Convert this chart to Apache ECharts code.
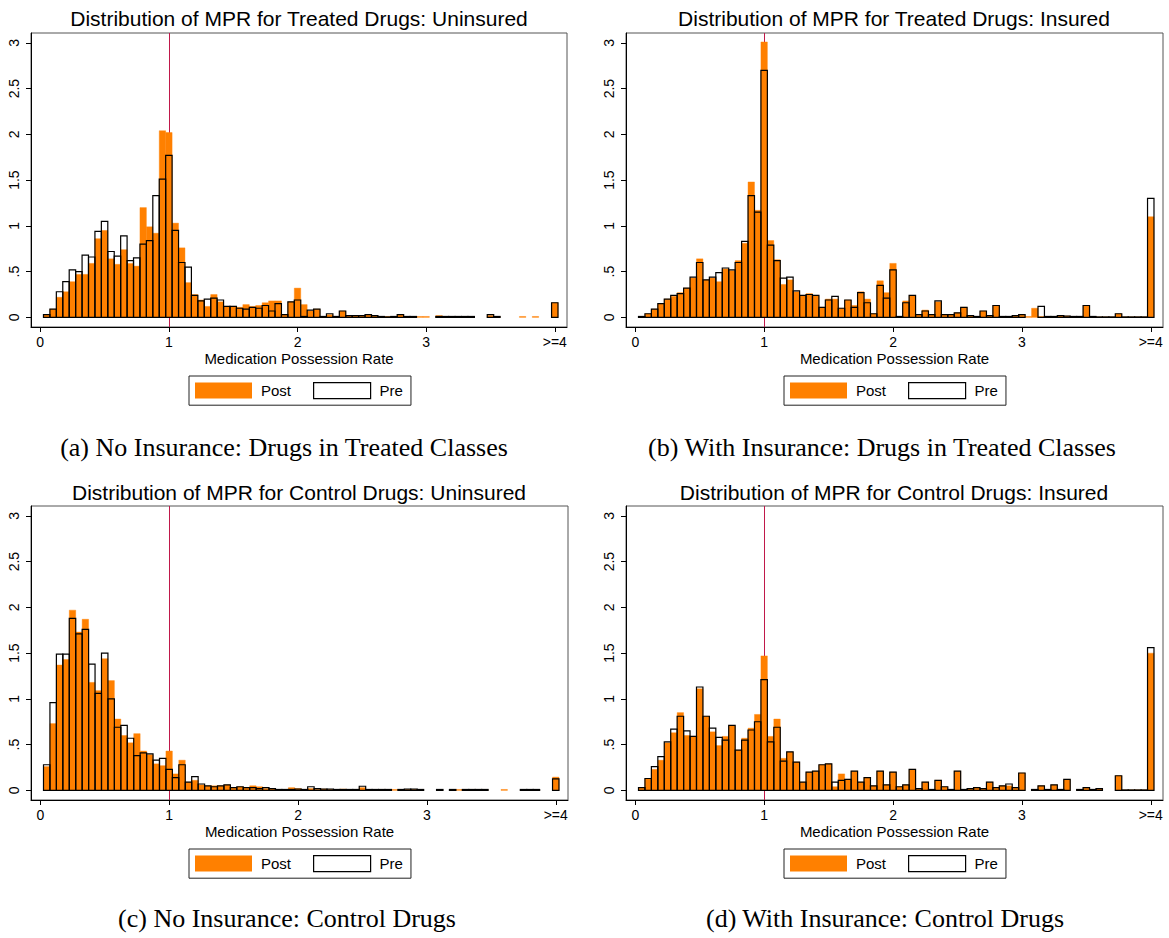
<!DOCTYPE html>
<html>
<head>
<meta charset="utf-8">
<script src="https://cdn.jsdelivr.net/npm/echarts@6/dist/echarts.min.js"></script>
<style>
html,body{margin:0;padding:0;background:#fff;}
#chart{width:1169px;height:938px;}
</style>
</head>
<body>
<div id="chart"></div>
<script>
// ---- data ----
var binCenters = [0.05,0.10,0.15,0.20,0.25,0.30,0.35,0.40,0.45,0.50,0.55,0.60,0.65,0.70,0.75,0.80,0.85,0.90,0.95,1.00,
  1.05,1.10,1.15,1.20,1.25,1.30,1.35,1.40,1.45,1.50,1.55,1.60,1.65,1.70,1.75,1.80,1.85,1.90,1.95,2.00,
  2.05,2.10,2.15,2.20,2.25,2.30,2.35,2.40,2.45,2.50,2.55,2.60,2.65,2.70,2.75,2.80,2.85,2.90,2.95,3.00,
  3.05,3.10,3.15,3.20,3.25,3.30,3.35,3.40,3.45,3.50,3.55,3.60,3.65,3.70,3.75,3.80,3.85,3.90,3.95,4.00];

var xTickValues = [0, 1, 2, 3, 4];
var xTickLabels = ['0', '1', '2', '3', '>=4'];
var yTickValues = [0, 0.5, 1, 1.5, 2, 2.5, 3];
var yTickLabels = ['0', '.5', '1', '1.5', '2', '2.5', '3'];

var panelTitles = [
  'Distribution of MPR for Treated Drugs: Uninsured',
  'Distribution of MPR for Treated Drugs: Insured',
  'Distribution of MPR for Control Drugs: Uninsured',
  'Distribution of MPR for Control Drugs: Insured'
];
var panelCaptions = [
  '(a) No Insurance: Drugs in Treated Classes',
  '(b) With Insurance: Drugs in Treated Classes',
  '(c) No Insurance: Control Drugs',
  '(d) With Insurance: Control Drugs'
];
var xAxisTitle = 'Medication Possession Rate';
var seriesNames = ['Post', 'Pre'];
var refLineX = 1;

var postA = [0.03,0.09,0.22,0.28,0.39,0.47,0.47,0.59,0.86,0.95,0.64,0.58,0.74,0.59,0.56,1.20,0.99,0.92,2.04,2.02,
  1.03,0.76,0.38,0.25,0.19,0.12,0.25,0.17,0.12,0.12,0.11,0.14,0.12,0.13,0.16,0.18,0.18,0.03,0.17,0.32,
  0.14,0.07,0.09,0.01,0.03,0.01,0.07,0.02,0.02,0.02,0.03,0.02,0.01,0.01,0.005,0.03,0.005,0.005,0.01,0.01,
  0,0.02,0.01,0.01,0.01,0.01,0.01,0,0,0.02,0.01,0,0,0,0.01,0,0.01,0,0,0.16];
var preA = [0.03,0.09,0.28,0.39,0.52,0.50,0.68,0.66,0.94,1.05,0.72,0.67,0.89,0.62,0.65,0.80,0.84,1.33,1.51,1.77,
  0.95,0.60,0.55,0.24,0.18,0.20,0.21,0.19,0.12,0.12,0.10,0.09,0.11,0.10,0.13,0.07,0.15,0.03,0.17,0.19,
  0.01,0.08,0.09,0.01,0.04,0.01,0.07,0.02,0.02,0.02,0.03,0.02,0.01,0.005,0.01,0.03,0.01,0.01,0,0,
  0,0.01,0.01,0.01,0.01,0.01,0.01,0,0,0.03,0.01,0,0,0,0,0,0,0,0,0.16];

var postB = [0.01,0.04,0.09,0.15,0.20,0.23,0.27,0.32,0.43,0.64,0.41,0.43,0.39,0.53,0.51,0.62,0.81,1.48,1.17,3.01,
  0.84,0.63,0.36,0.41,0.28,0.24,0.26,0.24,0.11,0.20,0.20,0.10,0.19,0.13,0.28,0.20,0.04,0.40,0.27,0.59,
  0.01,0.18,0.24,0.03,0.08,0.03,0.17,0.03,0.03,0.05,0.11,0.02,0.01,0.07,0.02,0.13,0.01,0.01,0.02,0.03,
  0.01,0.10,0.01,0.01,0.01,0.02,0.015,0.01,0.01,0.13,0.01,0.005,0.005,0.005,0.04,0.005,0.005,0.005,0.005,1.10];
var preB = [0.01,0.04,0.09,0.15,0.20,0.24,0.26,0.32,0.44,0.60,0.41,0.44,0.49,0.54,0.52,0.60,0.83,1.33,1.15,2.70,
  0.79,0.62,0.43,0.44,0.29,0.24,0.25,0.24,0.11,0.19,0.23,0.10,0.19,0.11,0.27,0.16,0.04,0.35,0.21,0.52,
  0.01,0.16,0.24,0.03,0.07,0.03,0.18,0.03,0.03,0.05,0.11,0.02,0.01,0.07,0.02,0.13,0.01,0.01,0.02,0.03,
  0,0,0.12,0.01,0.01,0.02,0.015,0.01,0.01,0.13,0.01,0.005,0.005,0.005,0.04,0.005,0.005,0.005,0.005,1.30];

var postC = [0.26,0.73,1.37,1.43,1.97,1.73,1.87,1.18,1.09,1.44,1.20,0.78,0.60,0.52,0.62,0.43,0.39,0.29,0.27,0.43,
  0.18,0.33,0.09,0.11,0.06,0.05,0.05,0.05,0.06,0.03,0.04,0.03,0.05,0.04,0.02,0.02,0.01,0.01,0.03,0.02,
  0.01,0.02,0.01,0.015,0.01,0.01,0.015,0.01,0.01,0.03,0.01,0.01,0.01,0.01,0.01,0.01,0.01,0.01,0.01,0,
  0,0.005,0,0.005,0.01,0.01,0.01,0.01,0.01,0,0,0.01,0,0,0.005,0.005,0.005,0,0,0.145];
var preC = [0.28,0.96,1.49,1.49,1.88,1.71,1.76,1.38,1.06,1.50,1.00,0.69,0.71,0.57,0.38,0.41,0.40,0.33,0.35,0.23,
  0.14,0.28,0.09,0.15,0.07,0.05,0.04,0.05,0.06,0.03,0.04,0.03,0.03,0.02,0.03,0.02,0.01,0.01,0.01,0.015,
  0.01,0.04,0.02,0.015,0.015,0.01,0.01,0.01,0.01,0.045,0.01,0.01,0.01,0.01,0,0.01,0.015,0.015,0.01,0,
  0,0.01,0,0.01,0,0.01,0.01,0.01,0.01,0,0,0,0,0,0.01,0.01,0.01,0,0,0.125];

var postD = [0.03,0.13,0.23,0.33,0.52,0.63,0.85,0.60,0.59,1.11,0.81,0.64,0.49,0.59,0.71,0.44,0.57,0.68,0.83,1.47,
  0.59,0.78,0.35,0.42,0.31,0.09,0.20,0.21,0.28,0.29,0.04,0.18,0.12,0.21,0.09,0.14,0.05,0.21,0.06,0.20,
  0.04,0.06,0.23,0.02,0.09,0.01,0.11,0.04,0.01,0.21,0.01,0.02,0.03,0.02,0.09,0.03,0.05,0.05,0.03,0.19,
  0,0.01,0.05,0.01,0.06,0.01,0.12,0,0.01,0.03,0.01,0.02,0,0,0.16,0.005,0.005,0.005,0.005,1.50];
var preD = [0.03,0.13,0.26,0.37,0.53,0.67,0.81,0.65,0.59,1.13,0.81,0.68,0.58,0.55,0.71,0.44,0.55,0.66,0.75,1.21,
  0.53,0.69,0.32,0.42,0.31,0.09,0.20,0.21,0.28,0.29,0.09,0.11,0.12,0.21,0.09,0.14,0.05,0.21,0.06,0.20,
  0.04,0.06,0.23,0.02,0.09,0.01,0.11,0.04,0.01,0.21,0.01,0.02,0.03,0.02,0.09,0.03,0.05,0.07,0.03,0.19,
  0,0.01,0.05,0.01,0.06,0.01,0.12,0,0.01,0.03,0.01,0.02,0,0,0.16,0.005,0.005,0.005,0.005,1.56];

var panelPost = [postA, postB, postC, postD];
var panelPre = [preA, preB, preC, preD];

// ---- styling / layout ----
var ORANGE = '#FF8000';
var REDLINE = '#C0184A';
var BIN_HALF = 0.025;
var SANS = '"Liberation Sans", Arial, Helvetica, sans-serif';
var SERIF = '"Liberation Serif", "Times New Roman", serif';
var grids = [
  {left: 31, top: 33, width: 536, height: 294},
  {left: 626, top: 33, width: 537, height: 294},
  {left: 31, top: 506, width: 537, height: 294},
  {left: 626, top: 506, width: 537, height: 294}
];
var legendPos = [[189, 376], [784, 376], [189, 849], [784, 849]];
var titlePos = [[299, 18], [894, 18], [299, 492], [894, 492]];
var captionPos = [[284, 447], [882, 447], [287, 918], [885, 918]];

function pairs(vals) {
  var out = [];
  for (var i = 0; i < binCenters.length; i++) out.push([binCenters[i], vals[i]]);
  return out;
}

function renderBar(filled) {
  return function (params, api) {
    var x = api.value(0), y = api.value(1);
    if (!(y > 0)) return null;
    var p0 = api.coord([x - BIN_HALF, y]);
    var p1 = api.coord([x + BIN_HALF, 0]);
    return {
      type: 'rect',
      shape: {x: p0[0], y: p0[1], width: p1[0] - p0[0], height: p1[1] - p0[1]},
      style: filled ? {fill: ORANGE, stroke: ORANGE, lineWidth: 0.4}
                    : {fill: 'none', stroke: '#000', lineWidth: 1.2}
    };
  };
}

function renderRefLine(params, api) {
  var cs = params.coordSys;
  var px = Math.round(api.coord([api.value(0), 0])[0]) + 0.5;
  return {
    type: 'line',
    shape: {x1: px, y1: cs.y, x2: px, y2: cs.y + cs.height},
    style: {stroke: REDLINE, lineWidth: 1}
  };
}

var option = {
  backgroundColor: '#fff',
  animation: false,
  grid: [], xAxis: [], yAxis: [], series: [], legend: [], graphic: []
};

for (var p = 0; p < 4; p++) {
  var g = grids[p];
  option.grid.push({left: g.left, top: g.top, width: g.width, height: g.height,
    show: true, borderColor: '#555', borderWidth: 1, backgroundColor: '#fff', containLabel: false});
  option.xAxis.push({
    type: 'value', gridIndex: p, min: -0.072, max: 4.095,
    name: xAxisTitle, nameLocation: 'middle', nameGap: 24,
    nameTextStyle: {fontSize: 15, color: '#000', fontFamily: SANS},
    axisLine: {show: true, onZero: false, lineStyle: {color: '#000', width: 1}},
    axisTick: {show: true, length: 5, lineStyle: {color: '#000'}, customValues: xTickValues},
    axisLabel: {show: true, fontSize: 14, color: '#000', fontFamily: SANS, margin: 8,
      customValues: xTickValues,
      formatter: function (v) { var i = xTickValues.indexOf(v); return i >= 0 ? xTickLabels[i] : ''; }},
    splitLine: {show: false}
  });
  option.yAxis.push({
    type: 'value', gridIndex: p, min: -0.105, max: 3.108,
    axisLine: {show: true, onZero: false, lineStyle: {color: '#000', width: 1}},
    axisTick: {show: true, length: 5, lineStyle: {color: '#000'}, customValues: yTickValues},
    axisLabel: {show: true, fontSize: 14, color: '#000', fontFamily: SANS, rotate: 90, margin: 10,
      customValues: yTickValues,
      formatter: function (v) { var i = yTickValues.indexOf(v); return i >= 0 ? yTickLabels[i] : ''; }},
    splitLine: {show: false}
  });
  option.series.push({
    name: 'ref', type: 'custom', xAxisIndex: p, yAxisIndex: p, z: 1, silent: true,
    renderItem: renderRefLine,
    data: [[refLineX]]
  });
  option.series.push({
    name: seriesNames[0], type: 'custom', xAxisIndex: p, yAxisIndex: p, z: 2,
    itemStyle: {color: ORANGE},
    renderItem: renderBar(true),
    data: pairs(panelPost[p])
  });
  option.series.push({
    name: seriesNames[1], type: 'custom', xAxisIndex: p, yAxisIndex: p, z: 3,
    itemStyle: {color: '#fff', borderColor: '#000', borderWidth: 1.2},
    renderItem: renderBar(false),
    data: pairs(panelPre[p])
  });
  option.legend.push({
    left: legendPos[p][0], top: legendPos[p][1], orient: 'horizontal',
    padding: [6, 8, 6, 6], itemGap: 22, itemWidth: 57, itemHeight: 16,
    borderColor: '#222', borderWidth: 1, backgroundColor: '#fff',
    selectedMode: false,
    textStyle: {fontSize: 15, color: '#000', fontFamily: SANS, padding: [0, 0, 0, 4]},
    data: [
      {name: seriesNames[0], icon: 'rect', itemStyle: {color: ORANGE, borderWidth: 0}},
      {name: seriesNames[1], icon: 'rect', itemStyle: {color: '#fff', borderColor: '#000', borderWidth: 1.2}}
    ]
  });
  option.graphic.push({
    type: 'text', x: titlePos[p][0], y: titlePos[p][1], silent: true,
    style: {text: panelTitles[p], align: 'center', verticalAlign: 'middle',
      fontSize: 21, fontFamily: SANS, fill: '#000'}
  });
  option.graphic.push({
    type: 'text', x: captionPos[p][0], y: captionPos[p][1], silent: true,
    style: {text: panelCaptions[p], align: 'center', verticalAlign: 'middle',
      fontSize: 26, fontFamily: SERIF, fill: '#000'}
  });
}

var chart = echarts.init(document.getElementById('chart'), null, {renderer: 'svg', width: 1169, height: 938});
chart.setOption(option);
</script>
</body>
</html>
